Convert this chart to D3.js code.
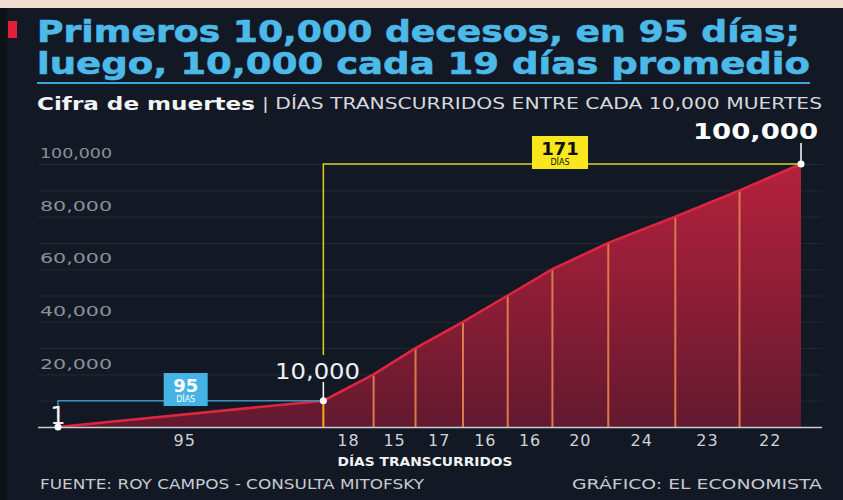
<!DOCTYPE html>
<html>
<head>
<meta charset="utf-8">
<script src="https://cdn.jsdelivr.net/npm/d3@7"></script>
<style>
  html, body { margin: 0; padding: 0; background: #121925; }
  svg { display: block; }
</style>
</head>
<body>
<svg id="chart" width="843" height="500"></svg>
<script>
// días transcurridos entre cada 10,000 muertes
const daysBetween = [95, 18, 15, 17, 16, 16, 20, 24, 23, 22];
const deaths = [1, 10000, 20000, 30000, 40000, 50000, 60000, 70000, 80000, 90000, 100000];
const yTicks = [20000, 40000, 60000, 80000, 100000];
const gridValues = [10000, 20000, 30000, 40000, 50000, 60000, 70000, 80000, 90000, 100000];

const svg = d3.select("#chart");
const W = 843, H = 500;
const font = "'DejaVu Sans', sans-serif";

// cumulative day for each point
let acc = 0;
const points = deaths.map((v, i) => {
  if (i > 0) acc += daysBetween[i - 1];
  return { day: acc, value: v };
});
const totalDays = acc;

const x = d3.scaleLinear().domain([0, totalDays]).range([58, 801]);
const y = d3.scaleLinear().domain([0, 100000]).range([427, 164]);

// background + frame
svg.append("rect").attr("width", W).attr("height", H).attr("fill", "#121925");
svg.append("rect").attr("width", W).attr("height", 8).attr("fill", "#f1ddd0");
svg.append("rect").attr("y", 8).attr("width", 7).attr("height", H).attr("fill", "#0d1219");

// title
svg.append("rect").attr("x", 8).attr("y", 21).attr("width", 9).attr("height", 17).attr("fill", "#e3203b");
const title = svg.append("g").attr("font-family", font).attr("font-weight", "bold")
  .attr("fill", "#4cb9e9").attr("font-size", 30).attr("stroke", "#4cb9e9").attr("stroke-width", 0.6);
title.append("text").attr("x", 37).attr("y", 42).attr("textLength", 763)
  .attr("lengthAdjust", "spacingAndGlyphs").text("Primeros 10,000 decesos, en 95 días;");
title.append("text").attr("x", 37).attr("y", 74).attr("textLength", 773)
  .attr("lengthAdjust", "spacingAndGlyphs").text("luego, 10,000 cada 19 días promedio");
svg.append("line").attr("x1", 37).attr("x2", 810).attr("y1", 83).attr("y2", 83)
  .attr("stroke", "#3aa7d9").attr("stroke-width", 2);

// subtitle
svg.append("text").attr("x", 37).attr("y", 110).attr("font-family", font).attr("fill", "#f2f3f5")
  .attr("font-weight", "bold").attr("font-size", 17).attr("textLength", 218)
  .attr("lengthAdjust", "spacingAndGlyphs").text("Cifra de muertes");
svg.append("text").attr("x", 262).attr("y", 109).attr("font-family", font).attr("fill", "#d5d8dd")
  .attr("font-size", 15).attr("textLength", 560).attr("lengthAdjust", "spacingAndGlyphs")
  .text("| DÍAS TRANSCURRIDOS ENTRE CADA 10,000 MUERTES");

// grid lines
svg.append("g").selectAll("line").data(gridValues).join("line")
  .attr("x1", 38).attr("x2", 822)
  .attr("y1", d => y(d) + 0.5).attr("y2", d => y(d) + 0.5)
  .attr("stroke", "#ffffff").attr("stroke-opacity", 0.07);

// y axis labels
const yAxis = svg.append("g").attr("transform", "translate(40,0)")
  .call(d3.axisRight(y).tickValues(yTicks).tickFormat(d3.format(",")).tickSize(0));
yAxis.select(".domain").remove();
yAxis.selectAll("text").attr("x", 0).attr("dy", "-0.45em")
  .attr("font-family", font).attr("font-size", 14).attr("fill", "#8b9099")
  .attr("textLength", 72).attr("lengthAdjust", "spacingAndGlyphs");

// area
const defs = svg.append("defs");
const grad = defs.append("linearGradient").attr("id", "areaGrad").attr("x1", 0).attr("x2", 0).attr("y1", 0).attr("y2", 1);
grad.append("stop").attr("offset", "0%").attr("stop-color", "#c3223f");
grad.append("stop").attr("offset", "100%").attr("stop-color", "#6a1930");

const curve = d3.curveLinear;
svg.append("path").datum(points)
  .attr("d", d3.area().x(d => x(d.day)).y0(y(0)).y1(d => y(d.value)).curve(curve))
  .attr("fill", "url(#areaGrad)").attr("fill-opacity", 0.92);

// vertical lines in the area
svg.append("g").selectAll("line").data(points.slice(1, -1)).join("line")
  .attr("x1", d => x(d.day)).attr("x2", d => x(d.day))
  .attr("y1", d => y(d.value)).attr("y2", y(0))
  .attr("stroke", (d, i) => i === 0 ? "#f3ac1f" : "#dc7a48").attr("stroke-width", 2);

svg.append("path").datum(points)
  .attr("d", d3.line().x(d => x(d.day)).y(d => y(d.value)).curve(curve))
  .attr("fill", "none").attr("stroke", "#e0263f").attr("stroke-width", 2.5);

// baseline
svg.append("line").attr("x1", 38).attr("x2", 822).attr("y1", y(0) + 0.5).attr("y2", y(0) + 0.5)
  .attr("stroke", "#c9ccd2").attr("stroke-width", 1.5);

// x labels: days between each point
svg.append("g").selectAll("text").data(daysBetween).join("text")
  .attr("x", (d, i) => (x(points[i].day) + x(points[i + 1].day)) / 2 - (i === 0 ? 6 : 0))
  .attr("y", 446).attr("text-anchor", "middle")
  .attr("font-family", font).attr("font-size", 16).attr("fill", "#cfd2d8").attr("letter-spacing", 1)
  .text(d => d);

svg.append("text").attr("x", 425).attr("y", 466).attr("text-anchor", "middle")
  .attr("font-family", font).attr("font-weight", "bold").attr("font-size", 12).attr("fill", "#f2f3f5")
  .attr("textLength", 175).attr("lengthAdjust", "spacingAndGlyphs")
  .text("DÍAS TRANSCURRIDOS");

// footer
svg.append("text").attr("x", 40).attr("y", 489).attr("font-family", font).attr("font-size", 14)
  .attr("fill", "#c6c9cf").attr("textLength", 384).attr("lengthAdjust", "spacingAndGlyphs")
  .text("FUENTE: ROY CAMPOS - CONSULTA MITOFSKY");
svg.append("text").attr("x", 572).attr("y", 489).attr("font-family", font).attr("font-size", 14)
  .attr("fill", "#c6c9cf").attr("textLength", 250).attr("lengthAdjust", "spacingAndGlyphs")
  .text("GRÁFICO: EL ECONOMISTA");

// annotations
const p0 = points[0], p1 = points[1], pN = points[points.length - 1];

// 95 días bracket
svg.append("path")
  .attr("d", `M${x(p0.day)},${y(p0.value) - 8}V${y(p1.value)}H${x(p1.day)}`)
  .attr("fill", "none").attr("stroke", "#3d8fb8").attr("stroke-width", 1.5);
const bx = (x(p0.day) + x(p1.day)) / 2 - 5;
svg.append("rect").attr("x", bx - 22).attr("y", 373).attr("width", 44).attr("height", 33).attr("fill", "#45b3e6");
svg.append("text").attr("x", bx).attr("y", 392).attr("text-anchor", "middle").attr("font-family", font)
  .attr("font-weight", "bold").attr("font-size", 18).attr("fill", "#ffffff").text(daysBetween[0]);
svg.append("text").attr("x", bx).attr("y", 402).attr("text-anchor", "middle").attr("font-family", font)
  .attr("font-size", 8).attr("fill", "#ffffff").text("DÍAS");

// 171 días bracket
const rest = d3.sum(daysBetween.slice(1));
svg.append("path")
  .attr("d", `M${x(p1.day)},355V${y(pN.value)}H${x(pN.day)}`)
  .attr("fill", "none").attr("stroke", "#d8d21e").attr("stroke-width", 1.5);
svg.append("rect").attr("x", 532).attr("y", 136).attr("width", 56).attr("height", 33).attr("fill", "#f8e71c");
svg.append("text").attr("x", 560).attr("y", 155).attr("text-anchor", "middle").attr("font-family", font)
  .attr("font-weight", "bold").attr("font-size", 18).attr("fill", "#111").text(rest);
svg.append("text").attr("x", 560).attr("y", 165).attr("text-anchor", "middle").attr("font-family", font)
  .attr("font-size", 8).attr("fill", "#111").text("DÍAS");

// point markers and value labels
svg.append("line").attr("x1", x(p1.day)).attr("x2", x(p1.day)).attr("y1", 382).attr("y2", y(p1.value))
  .attr("stroke", "#ffffff").attr("stroke-width", 1.5);
svg.append("line").attr("x1", x(pN.day)).attr("x2", x(pN.day)).attr("y1", 143).attr("y2", y(pN.value))
  .attr("stroke", "#ffffff").attr("stroke-width", 1.5);
svg.append("g").selectAll("circle").data([p0, p1, pN]).join("circle")
  .attr("cx", d => x(d.day)).attr("cy", d => y(d.value)).attr("r", 3.5).attr("fill", "#ffffff");

svg.append("text").attr("x", x(p0.day)).attr("y", 424).attr("text-anchor", "middle").attr("font-family", font)
  .attr("font-size", 24).attr("fill", "#eef0f3").text(d3.format(",")(p0.value));
svg.append("text").attr("x", 275).attr("y", 379).attr("font-family", font)
  .attr("font-size", 22).attr("fill", "#eef0f3").attr("textLength", 85).attr("lengthAdjust", "spacingAndGlyphs")
  .text(d3.format(",")(p1.value));
svg.append("text").attr("x", 693).attr("y", 139).attr("font-family", font)
  .attr("font-weight", "bold").attr("font-size", 21).attr("fill", "#ffffff")
  .attr("textLength", 125).attr("lengthAdjust", "spacingAndGlyphs")
  .text(d3.format(",")(pN.value));
</script>
</body>
</html>
